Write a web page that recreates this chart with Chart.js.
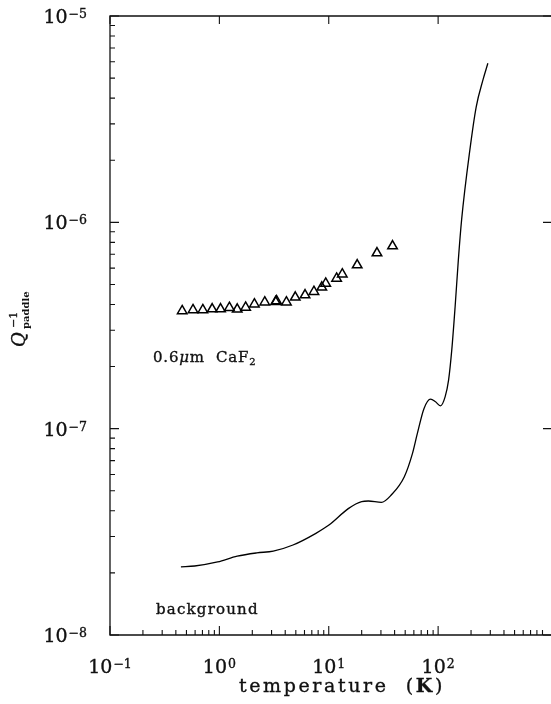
<!DOCTYPE html>
<html>
<head>
<meta charset="utf-8">
<script src="https://cdn.jsdelivr.net/npm/chart.js@4.4.1/dist/chart.umd.min.js"></script>
<style>
  html, body { margin: 0; padding: 0; background: #fff; }
  #plot { display: block; }
</style>
</head>
<body>
<canvas id="plot" width="551" height="704"></canvas>
<script>
// ---- data ----
// background curve (empty paddle)
const bgTemp = [0.445, 0.594, 0.964, 1.456, 2.20, 3.11, 4.71, 7.63, 10.04, 15.2, 20.0, 23.0, 30.3, 37.3, 49.1, 58.3, 64.6, 74.2, 85.3, 94.6, 105, 116, 124.6, 133.3, 143, 153, 164, 195, 223, 257, 285];
const bgQ = [2.14e-8, 2.16e-8, 2.26e-8, 2.41e-8, 2.50e-8, 2.55e-8, 2.73e-8, 3.11e-8, 3.41e-8, 4.11e-8, 4.43e-8, 4.46e-8, 4.39e-8, 4.77e-8, 5.85e-8, 7.59e-8, 9.48e-8, 1.25e-7, 1.39e-7, 1.35e-7, 1.29e-7, 1.43e-7, 1.72e-7, 2.41e-7, 3.90e-7, 6.56e-7, 1.03e-6, 2.24e-6, 3.63e-6, 4.90e-6, 5.90e-6];

// 0.6 um CaF2 film (triangles)
const cafTemp = [0.457, 0.574, 0.706, 0.859, 1.025, 1.235, 1.456, 1.738, 2.09, 2.60, 3.27, 3.33, 4.10, 4.94, 6.07, 7.32, 8.64, 9.38, 11.8, 13.3, 18.2, 27.6, 38.3];
const cafQ = [3.72e-7, 3.76e-7, 3.76e-7, 3.80e-7, 3.80e-7, 3.86e-7, 3.79e-7, 3.87e-7, 4.01e-7, 4.10e-7, 4.12e-7, 4.16e-7, 4.10e-7, 4.33e-7, 4.44e-7, 4.61e-7, 4.84e-7, 5.06e-7, 5.35e-7, 5.61e-7, 6.21e-7, 7.10e-7, 7.67e-7];

// axes
const xDecades = [-1, 0, 1, 2];
const yDecades = [-8, -7, -6, -5];
const xMin = 0.1, xMax = 929;
const yMin = 1e-8, yMax = 1e-5;

const SERIF = '"DejaVu Serif", serif';
const INK = '#111';

// fill + a hair of stroke so the text looks as heavy as the scan
function txt(ctx, s, x, y) {
    ctx.fillText(s, x, y);
    ctx.lineWidth = 0.35;
    ctx.strokeText(s, x, y);
}

// draws "10^exp" ; anchor: 'right' or 'center'
function drawPow(ctx, x, y, exp, anchor) {
    const big = '19px ' + SERIF, small = '12.5px ' + SERIF;
    const sup = (exp < 0 ? '\u2212' : '') + Math.abs(exp);
    ctx.font = big;
    const w1 = ctx.measureText('10').width;
    ctx.font = small;
    const w2 = ctx.measureText(sup).width;
    const total = w1 + 1 + w2;
    let x0 = anchor === 'right' ? x - total : x - total / 2;
    ctx.textBaseline = 'alphabetic';
    ctx.textAlign = 'left';
    ctx.font = big;
    txt(ctx, '10', x0, y + 7);
    ctx.font = small;
    txt(ctx, sup, x0 + w1 + 1, y + 2);
}

const framePlugin = {
    id: 'frame',
    afterDraw(chart) {
        const ctx = chart.ctx;
        const xs = chart.scales.x, ys = chart.scales.y;
        const L = xs.getPixelForValue(xMin), R = chart.width;
        const T = ys.getPixelForValue(yMax), B = ys.getPixelForValue(yMin);
        ctx.save();
        ctx.strokeStyle = INK;
        ctx.fillStyle = INK;
        ctx.lineWidth = 1.3;

        // frame: left, bottom, top (right edge falls off the page)
        ctx.beginPath();
        ctx.moveTo(R, T); ctx.lineTo(L, T); ctx.lineTo(L, B); ctx.lineTo(R, B);
        ctx.stroke();

        ctx.lineWidth = 1.1;
        ctx.beginPath();
        // y ticks
        yDecades.forEach(d => {
            const p = ys.getPixelForValue(Math.pow(10, d));
            ctx.moveTo(L, p); ctx.lineTo(L + 9, p);
            ctx.moveTo(R, p); ctx.lineTo(R - 8, p);
            if (d < -5) {
                for (let k = 2; k < 10; k++) {
                    const q = ys.getPixelForValue(k * Math.pow(10, d));
                    ctx.moveTo(L, q); ctx.lineTo(L + 5, q);
                }
            }
        });
        // x ticks
        xDecades.forEach(d => {
            const p = xs.getPixelForValue(Math.pow(10, d));
            ctx.moveTo(p, B); ctx.lineTo(p, B - 9);
            ctx.moveTo(p, T); ctx.lineTo(p, T + 8);
            for (let k = 2; k < 10; k++) {
                const v = k * Math.pow(10, d);
                if (v > xMax) break;
                const q = xs.getPixelForValue(v);
                ctx.moveTo(q, B); ctx.lineTo(q, B - 5);
            }
        });
        ctx.stroke();

        // tick labels
        yDecades.forEach(d => drawPow(ctx, 87, ys.getPixelForValue(Math.pow(10, d)), d, 'right'));
        xDecades.forEach(d => drawPow(ctx, xs.getPixelForValue(Math.pow(10, d)), 666, d, 'center'));

        // x title: temperature (K)
        ctx.textBaseline = 'alphabetic';
        ctx.textAlign = 'left';
        ctx.letterSpacing = '2.6px';
        ctx.font = '19px ' + SERIF;
        const t1 = 'temperature  (';
        const w1 = ctx.measureText(t1).width;
        ctx.font = 'bold 19px ' + SERIF;
        const wk = ctx.measureText('K').width;
        ctx.font = '19px ' + SERIF;
        const w3 = ctx.measureText(')').width;
        let tx = 342 - (w1 + wk + w3) / 2;
        txt(ctx, t1, tx, 692);
        ctx.font = 'bold 19px ' + SERIF;
        txt(ctx, 'K', tx + w1, 692);
        ctx.font = '19px ' + SERIF;
        txt(ctx, ')', tx + w1 + wk, 692);

        // annotations
        ctx.letterSpacing = '0.8px';
        ctx.font = '15px ' + SERIF;
        let ax = 153;
        txt(ctx, '0.6', ax, 362); ax += ctx.measureText('0.6').width;
        ctx.font = 'italic 15px ' + SERIF;
        txt(ctx, '\u03bc', ax, 362); ax += ctx.measureText('\u03bc').width;
        ctx.font = '15px ' + SERIF;
        txt(ctx, 'm  CaF', ax, 362); ax += ctx.measureText('m  CaF').width;
        ctx.font = '10px ' + SERIF;
        txt(ctx, '2', ax, 365);

        ctx.font = '15px ' + SERIF;
        ctx.letterSpacing = '1.2px';
        txt(ctx, 'background', 156, 614);
        ctx.letterSpacing = '0px';

        // y title, rotated: Q^{-1}_{paddle}
        ctx.translate(25, 347);
        ctx.rotate(-Math.PI / 2);
        ctx.font = 'italic 18px ' + SERIF;
        txt(ctx, 'Q', 0, 0);
        ctx.font = '11px ' + SERIF;
        txt(ctx, '\u22121', 19, -8);
        ctx.font = 'bold 10px ' + SERIF;
        ctx.fillText('paddle', 18, 4);
        ctx.restore();
    }
};

const bgPoints = bgTemp.map((t, i) => ({ x: t, y: bgQ[i] }));
const cafPoints = cafTemp.map((t, i) => ({ x: t, y: cafQ[i] }));

new Chart(document.getElementById('plot'), {
    type: 'line',
    data: {
        datasets: [
            {
                label: 'background',
                data: bgPoints,
                borderColor: '#000',
                borderWidth: 1.3,
                pointRadius: 0,
                cubicInterpolationMode: 'monotone',
                fill: false
            },
            {
                label: '0.6um CaF2',
                data: cafPoints,
                showLine: false,
                pointStyle: 'triangle',
                pointRadius: 5.5,
                borderColor: '#000',
                borderWidth: 1.5,
                backgroundColor: 'rgba(0,0,0,0)'
            }
        ]
    },
    options: {
        responsive: false,
        animation: false,
        devicePixelRatio: 1,
        layout: { padding: { left: 110, top: 16, right: 0, bottom: 69 } },
        plugins: { legend: { display: false }, tooltip: { enabled: false } },
        scales: {
            x: { type: 'logarithmic', min: xMin, max: xMax, display: false },
            y: { type: 'logarithmic', min: yMin, max: yMax, display: false }
        }
    },
    plugins: [framePlugin]
});
</script>
</body>
</html>
